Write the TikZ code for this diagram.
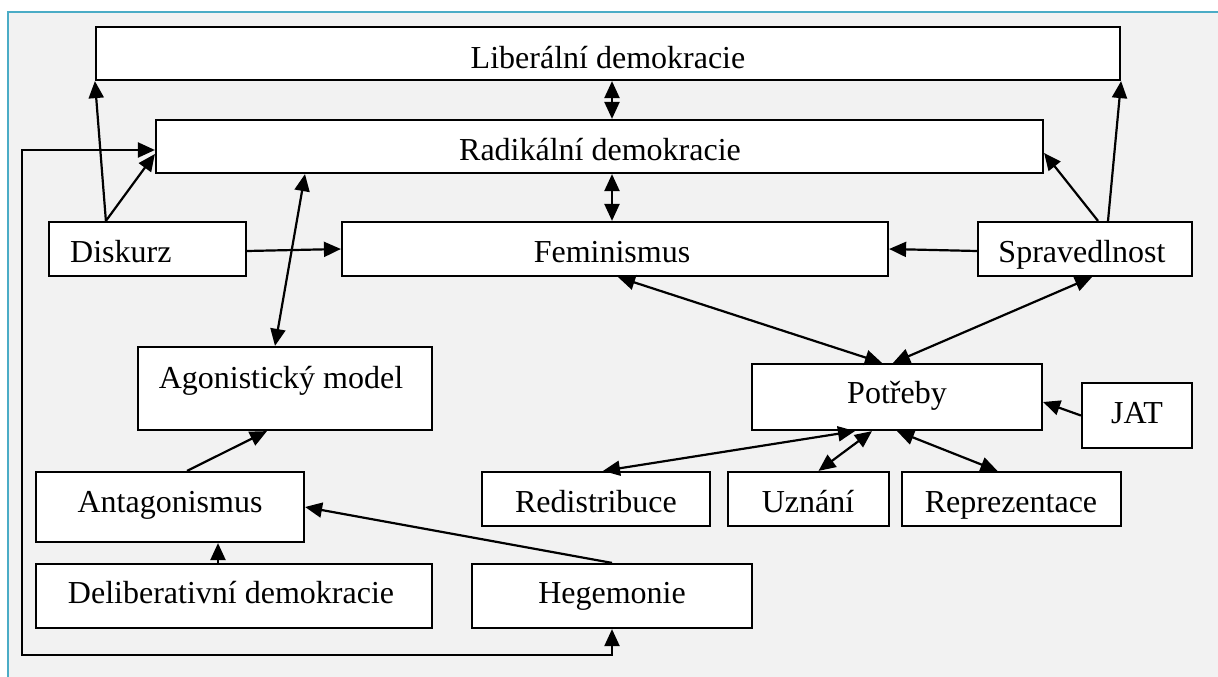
\documentclass[tikz,border=0pt]{standalone}
\usepackage{fontspec}
\setmainfont{Liberation Serif}
\usetikzlibrary{arrows.meta,fit}
\definecolor{frameblue}{HTML}{4BACC6}
\definecolor{bggrey}{HTML}{F2F2F2}
\begin{document}
\begin{tikzpicture}[x=1pt,y=-1pt,
  box/.style={draw=black, fill=white, line width=2.2pt, inner sep=0pt},
  lbl/.style={anchor=base, inner sep=0pt, font=\fontsize{32}{38}\selectfont},
  con/.style={line width=2.2pt, -{Triangle[length=17pt,width=15pt]}},
  bicon/.style={line width=2.2pt, {Triangle[length=17pt,width=15pt]}-{Triangle[length=17pt,width=15pt]}}]
\useasboundingbox (0,0) rectangle (1218,677);
% background frame
\fill[white] (0,0) rectangle (1218,677);
\fill[bggrey] (8,12) rectangle (1218,677);
\draw[frameblue, line width=2.5pt] (8,677) -- (8,12) -- (1218,12);
% boxes
\node[box, fit={(96,27) (1120,80)}] (lib) {};
\node[box, fit={(156,120) (1043,173)}] (rad) {};
\node[box, fit={(49,222) (246,276)}] (dis) {};
\node[box, fit={(342,222) (888,276)}] (fem) {};
\node[box, fit={(978,222) (1192,276)}] (spr) {};
\node[box, fit={(138,347) (432,430)}] (ago) {};
\node[box, fit={(752,364) (1042,430)}] (pot) {};
\node[box, fit={(1082,383) (1192,448)}] (jat) {};
\node[box, fit={(36,472) (304,542)}] (ant) {};
\node[box, fit={(482,472) (710,526)}] (red) {};
\node[box, fit={(728,472) (889,526)}] (uzn) {};
\node[box, fit={(902,472) (1121,526)}] (rep) {};
\node[box, fit={(36,564) (432,628)}] (del) {};
\node[box, fit={(472,564) (752,628)}] (heg) {};
% labels
\node[lbl] (tlib) at (608,69) {Liberální demokracie};
\node[lbl] (trad) at (600,160) {Radikální demokracie};
\node[lbl, anchor=base west] (tdis) at (70,262) {Diskurz};
\node[lbl] (tfem) at (612,262) {Feminismus};
\node[lbl] (tspr) at (1082,262) {Spravedlnost};
\node[lbl] (tago) at (281,388) {Agonistický model};
\node[lbl] (tpot) at (897,403) {Potřeby};
\node[lbl] (tjat) at (1137,423) {JAT};
\node[lbl] (tant) at (170,512) {Antagonismus};
\node[lbl] (tred) at (596,512) {Redistribuce};
\node[lbl] (tuzn) at (808,512) {Uznání};
\node[lbl] (trep) at (1011,512) {Reprezentace};
\node[lbl] (tdel) at (231,603) {Deliberativní demokracie};
\node[lbl] (theg) at (612,603) {Hegemonie};
% feedback loop coordinates
\coordinate (fbu) at (22,150);
\coordinate (fbl) at (22,655);
% connectors
\draw[con] ([xshift=58pt]dis.north west) -- (lib.south west);
\draw[con] ([xshift=58pt]dis.north west) -- ([yshift=-7.5pt]rad.west);
\draw[bicon] ([yshift=-3.5pt]rad.west) -- (fbu) -- (fbl) -| (heg.south);
\draw[bicon] ([xshift=4pt]lib.south) -- ([xshift=12.5pt]rad.north);
\draw[bicon] ([xshift=12.5pt]rad.south) -- ([xshift=-3pt]fem.north);
\draw[con] ([yshift=-2pt]dis.east) -- (fem.west);
\draw[con] ([yshift=-2pt]spr.west) -- (fem.east);
\draw[con] ([xshift=13pt]spr.north) -- ([yshift=-6.5pt]rad.east);
\draw[con] ([xshift=23pt]spr.north) -- (lib.south east);
\draw[bicon] ([xshift=-294.5pt]rad.south) -- ([xshift=-10pt]ago.north);
\draw[con] ([xshift=17pt]ant.north) -- ([xshift=-18pt]ago.south);
\draw[con] ([xshift=-16pt]del.north) -- ([xshift=48pt]ant.south);
\draw[con] (heg.north) -- (ant.east);
\draw[bicon] ([xshift=3pt]fem.south) -- ([xshift=-15pt]pot.north);
\draw[bicon] ([xshift=7pt]spr.south) -- ([xshift=-4pt]pot.north);
\draw[con] (jat.west) -- ([yshift=-5pt]pot.east);
\draw[bicon] ([xshift=-42pt]pot.south) -- ([xshift=7pt]red.north);
\draw[bicon] ([xshift=-25pt]pot.south) -- ([xshift=10pt]uzn.north);
\draw[bicon] (pot.south) -- ([xshift=-14pt]rep.north);
\end{tikzpicture}
\end{document}
